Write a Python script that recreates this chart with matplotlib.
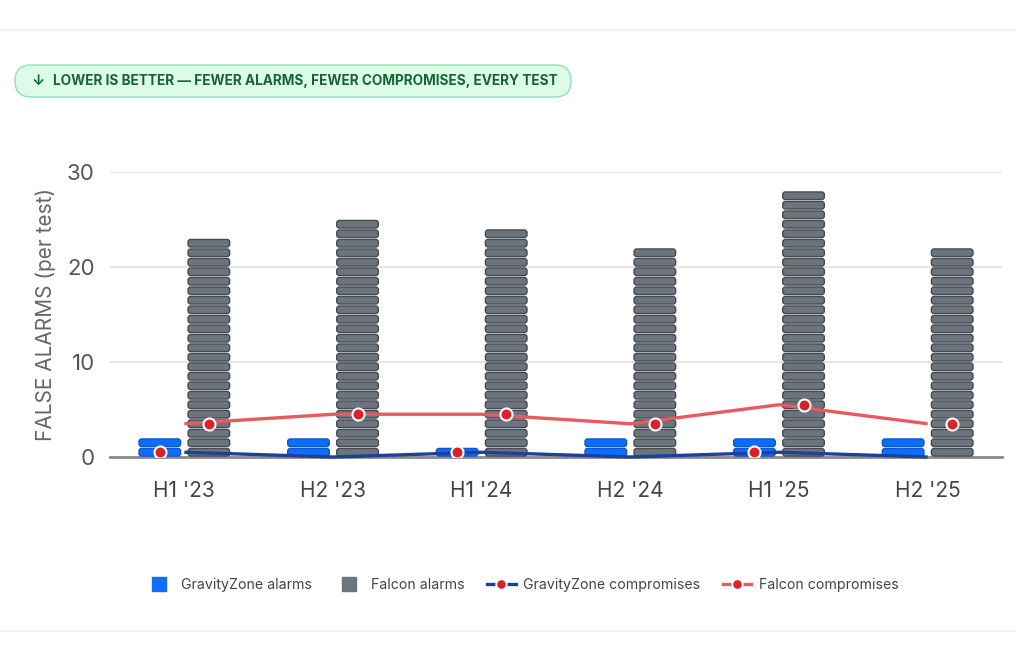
import matplotlib.pyplot as plt
from matplotlib.patches import FancyBboxPatch
from matplotlib.lines import Line2D

plt.rcParams['font.family'] = ['Inter', 'DejaVu Sans']

periods = ["H1 '23", "H2 '23", "H1 '24", "H2 '24", "H1 '25", "H2 '25"]
gz_alarms = [2, 2, 1, 2, 2, 2]
falcon_alarms = [23, 25, 24, 22, 28, 22]
gz_comp = [0.5, 0, 0.5, 0, 0.5, 0]
falcon_comp = [3.5, 4.5, 4.5, 3.5, 5.5, 3.5]

BLUE = '#0d6efd'
BLUE_EDGE = '#0a58ca'
GRAY = '#6c757d'
GRAY_EDGE = '#454b51'
NAVY = '#1f3f99'
RED_LINE = '#e85a5f'
RED_DOT = '#d9232b'

fig = plt.figure(figsize=(10.16, 6.66), dpi=100)
ax = fig.add_axes([110 / 1016, 1 - 457 / 666, 892 / 1016, 285 / 666])
ax.set_xlim(-0.5, 5.5)
ax.set_ylim(0, 30)

# px per data unit, used to keep corner rounding square
xpx = 892 / 6
ypx = 285 / 30
aspect = xpx / ypx

off = 0.165
w = 0.28
blk = 0.8


def stack(x, n, fc, ec):
    for k in range(n):
        p = FancyBboxPatch((x - w / 2, k + 0.1), w, blk,
                           boxstyle='round,pad=0,rounding_size=0.018',
                           mutation_aspect=aspect, fc=fc, ec=ec, lw=1.0,
                           zorder=3, clip_on=False)
        ax.add_patch(p)


for i in range(len(periods)):
    stack(i - off, gz_alarms[i], BLUE, BLUE_EDGE)
    stack(i + off, falcon_alarms[i], GRAY, GRAY_EDGE)

xs = list(range(len(periods)))
ax.plot(xs, falcon_comp, color=RED_LINE, lw=2.4, zorder=4, solid_capstyle='butt')
ax.plot(xs, gz_comp, color=NAVY, lw=2.4, zorder=4, solid_capstyle='butt', clip_on=False)
ax.scatter([i + off for i in xs], falcon_comp, s=75, color=RED_DOT,
           edgecolor='white', linewidth=1.5, zorder=5)
gx = [i - off for i in xs if gz_comp[i] > 0]
gy = [v for v in gz_comp if v > 0]
ax.scatter(gx, gy, s=75, color=RED_DOT, edgecolor='white', linewidth=1.5, zorder=5)

ax.set_yticks([0, 10, 20, 30])
ax.set_xticks(xs)
ax.set_xticklabels(periods)
ax.tick_params(axis='y', length=0, pad=11, labelsize=16, labelcolor='#555555')
ax.tick_params(axis='x', length=0, pad=17, labelsize=15, labelcolor='#444444')
ax.grid(axis='y', color='#e3e3e3', lw=1.3, zorder=0)
ax.set_axisbelow(True)
for s in ['top', 'right', 'left']:
    ax.spines[s].set_visible(False)
ax.spines['bottom'].set_color('#8a8a8a')
ax.spines['bottom'].set_linewidth(2)
ax.spines['bottom'].set_zorder(2)
ax.set_ylabel('FALSE ALARMS (per test)', fontsize=15, color='#666666', labelpad=8)

# badge
badge = FancyBboxPatch((15 / 1016, 1 - 97 / 666), 556 / 1016, 32 / 666,
                       boxstyle='round,pad=0,rounding_size=0.0157',
                       mutation_aspect=1016 / 666,
                       transform=fig.transFigure, fc='#dcfce7', ec='#8be3b0', lw=1)
fig.patches.append(badge)
fig.text(32 / 1016, 1 - 81 / 666, '↓', fontsize=10.5, fontweight='bold',
         color='#166534', va='center', ha='left')
fig.text(53 / 1016, 1 - 81 / 666,
         'LOWER IS BETTER — FEWER ALARMS, FEWER COMPROMISES, EVERY TEST',
         fontsize=9.8, fontweight='bold', color='#166534', va='center', ha='left')

# faint card edges
fig.add_artist(Line2D([0, 1], [1 - 30 / 666] * 2, color='#f4f4f4', lw=1.5))
fig.add_artist(Line2D([0, 1], [1 - 631 / 666] * 2, color='#f2f2f2', lw=1.5))

handles = [
    Line2D([], [], ls='none', marker='s', ms=10, mfc=BLUE, mec=BLUE),
    Line2D([], [], ls='none', marker='s', ms=10, mfc=GRAY, mec=GRAY),
    Line2D([], [], color=NAVY, lw=2.4, marker='o', ms=7.5, mfc=RED_DOT, mec='white', mew=1.3),
    Line2D([], [], color=RED_LINE, lw=2.4, marker='o', ms=7.5, mfc=RED_DOT, mec='white', mew=1.3),
]
labels = ['GravityZone alarms', 'Falcon alarms', 'GravityZone compromises', 'Falcon compromises']
fig.legend(handles, labels, loc='center', bbox_to_anchor=(522 / 1016, 1 - 585 / 666), ncol=4,
           frameon=False, fontsize=10.2, labelcolor='#444444', handlelength=2.0,
           handletextpad=0.55, columnspacing=1.6)

fig.savefig('out.png', dpi=100, facecolor='white')
